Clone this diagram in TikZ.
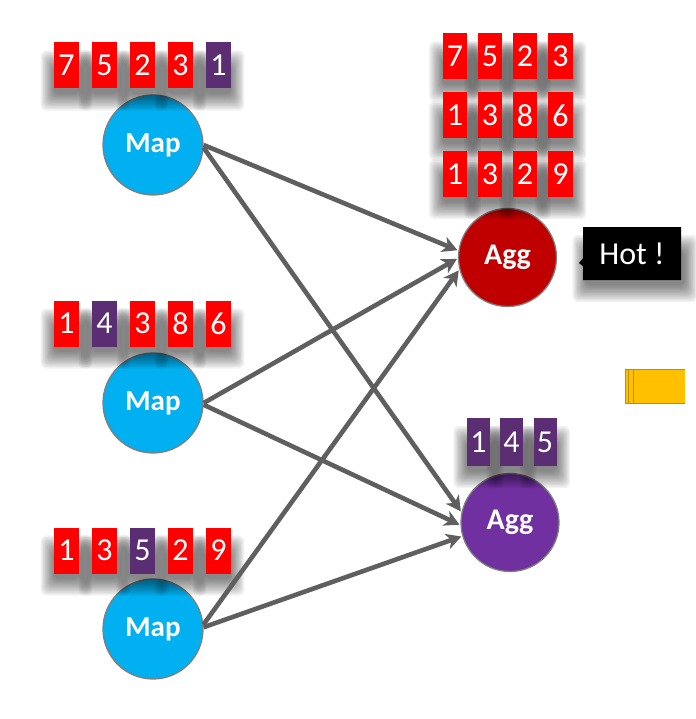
\documentclass[tikz,border=0pt]{standalone}
\usepackage{fontspec}
\setmainfont{Carlito}
\usetikzlibrary{arrows.meta,shapes.callouts}
\definecolor{boxred}{HTML}{FF0000}
\definecolor{boxpurple}{HTML}{5B2D73}
\definecolor{mapblue}{HTML}{00B0F0}
\definecolor{aggred}{HTML}{C00000}
\definecolor{aggpurple}{HTML}{7030A0}
\definecolor{edgegray}{HTML}{5F5F5F}
\definecolor{rimgray}{HTML}{7F7F7F}
\definecolor{hotyellow}{HTML}{FFC000}
\definecolor{hotyellowdark}{HTML}{BF9000}
\pgfdeclarelayer{back}
\pgfdeclarelayer{haze}
\pgfsetlayers{back,haze,main}
\newcommand\boxhaze[2][0]{%
  \foreach \k in {1,...,12}{%
    \fill[black, opacity=0.05, rounded corners=6pt]
      ([shift={(#1+1-\k*1.2, 26-\k*1.5)}]#2.north west) rectangle
      ([shift={(#1-1+\k*1.2, 4+\k*1.5)}]#2.south east);
  }}
\tikzset{
  numbox/.style={rectangle, minimum width=24.5pt, minimum height=46pt, inner sep=0pt,
    text=white, font=\fontsize{32}{32}\selectfont},
  redbox/.style={numbox, fill=boxred},
  purplebox/.style={numbox, fill=boxpurple},
  mapnode/.style={circle, minimum size=100pt, inner sep=0pt, fill=mapblue, draw=rimgray, line width=1.3pt,
    text=white, font=\bfseries\fontsize{29}{29}\selectfont},
  aggnode/.style={circle, minimum size=98pt, inner sep=0pt, draw=rimgray, line width=1.3pt,
    text=white, font=\bfseries\fontsize{30}{30}\selectfont},
  flow/.style={draw=edgegray, line width=4.6pt, -{Stealth[length=15pt,width=16pt,inset=4.5pt]}, shorten >=1pt}
}
\begin{document}
\begin{tikzpicture}[x=1pt,y=-1pt]
\useasboundingbox (0,0) rectangle (695,719);

\begin{pgfonlayer}{back}
% map nodes
\node[mapnode] (m1) at (153,145) {Map};
\node[mapnode] (m2) at (153,403) {Map};
\node[mapnode] (m3) at (153,629) {Map};
% agg nodes
\node[aggnode, fill=aggred] (g1) at (507.5,257.5) {Agg};
\node[aggnode, fill=aggpurple] (g2) at (510,522.5) {Agg};
\end{pgfonlayer}

% left row 1
\node[redbox] (a1) at (66.5,65.5) {7};
\node[redbox] (a2) at (104.5,65.5) {5};
\node[redbox] (a3) at (142.5,65.5) {2};
\node[redbox] (a4) at (180.5,65.5) {3};
\node[purplebox] (a5) at (218.5,65.5) {1};
% left row 2
\node[redbox] (b1) at (66.5,323.5) {1};
\node[purplebox] (b2) at (104.5,323.5) {4};
\node[redbox] (b3) at (142.5,323.5) {3};
\node[redbox] (b4) at (180.5,323.5) {8};
\node[redbox] (b5) at (218.5,323.5) {6};
% left row 3
\node[redbox] (c1) at (66.5,550.5) {1};
\node[redbox] (c2) at (104.5,550.5) {3};
\node[purplebox] (c3) at (142.5,550.5) {5};
\node[redbox] (c4) at (180.5,550.5) {2};
\node[redbox] (c5) at (218.5,550.5) {9};

% right red rows
\node[redbox] (r11) at (455,56.5) {7};
\node[redbox] (r12) at (490,56.5) {5};
\node[redbox] (r13) at (525,56.5) {2};
\node[redbox] (r14) at (560.5,56.5) {3};
\node[redbox] (r21) at (455,115.5) {1};
\node[redbox] (r22) at (490,115.5) {3};
\node[redbox] (r23) at (525,115.5) {8};
\node[redbox] (r24) at (560.5,115.5) {6};
\node[redbox] (r31) at (455,174) {1};
\node[redbox] (r32) at (490,174) {3};
\node[redbox] (r33) at (525,174) {2};
\node[redbox] (r34) at (560.5,174) {9};

% right purple row
\node[purplebox, minimum width=23pt, minimum height=48pt] (p1) at (478.5,442) {1};
\node[purplebox, minimum width=23pt, minimum height=48pt] (p2) at (511.5,442) {4};
\node[purplebox, minimum width=23pt, minimum height=48pt] (p3) at (545,442) {5};

% connectors
\draw[flow] (m1.east) -- (g1.172);
\draw[flow] (m1.357) -- (g2.168);
\draw[flow] (m2.east) -- (g1.181);
\draw[flow] (m2.358) -- (g2.183);
\draw[flow] (m3.5) -- (g1.194);
\draw[flow] (m3.2) -- (g2.196);

% Hot callout
\node[rectangle callout, fill=black, text=white, minimum width=98pt, minimum height=53pt, inner sep=0pt,
  callout absolute pointer={(579,263)}, callout pointer width=8pt,
  font=\fontsize{32}{32}\selectfont]
  (hot) at (632,253.5) {Hot !};

% soft shadows
\begin{pgfonlayer}{haze}
\foreach \n in {a1,a2,a3,a4,a5,b1,b2,b3,b4,b5,c1,c2,c3,c4,c5,
                r11,r12,r13,r14,r21,r22,r23,r24,r31,r32,r33,r34,p1,p2,p3}{\boxhaze{\n}}
\boxhaze[3]{hot}
\end{pgfonlayer}

% yellow bar at right edge
\fill[hotyellow] (625,369) rectangle (685,403);
\draw[hotyellowdark, line width=0.8pt] (625,369) -- (685,369) (625,403) -- (685,403) (625,369) -- (625,403);
\draw[hotyellowdark, line width=0.8pt] (628,369) -- (628,403) (633,369) -- (633,403);
\end{tikzpicture}
\end{document}
